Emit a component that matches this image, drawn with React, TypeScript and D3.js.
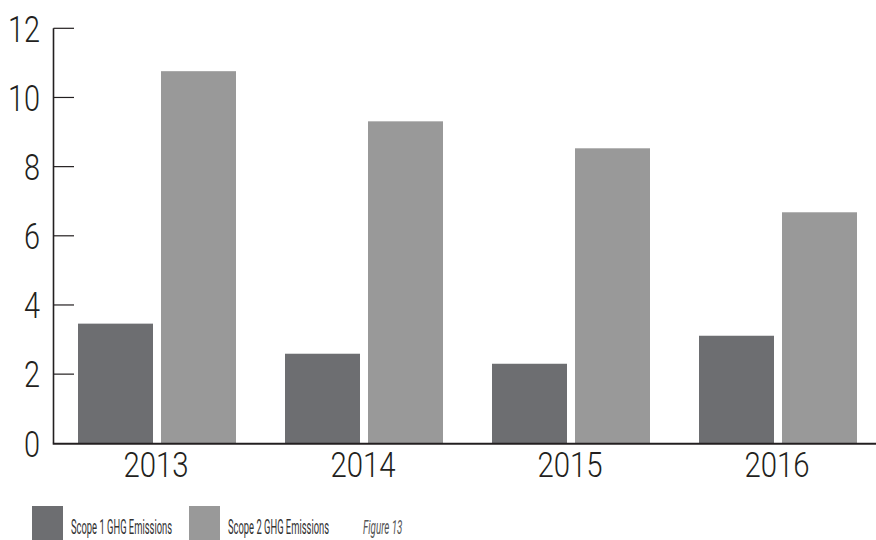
import React from "react";
import * as d3 from "d3";

const years = ["2013", "2014", "2015", "2016"];
const scope1 = [3.46, 2.59, 2.3, 3.11];
const scope2 = [10.76, 9.31, 8.53, 6.68];
const yTicks = [0, 2, 4, 6, 8, 10, 12];
const seriesNames = ["Scope 1 GHG Emissions", "Scope 2 GHG Emissions"];
const seriesColors = ["#6d6e71", "#999999"];
const figureLabel = "Figure 13";

const W = 876;
const H = 540;
const axisX = 53.5;
const font = "Roboto, 'Liberation Sans', Arial, sans-serif";
const ink = "#231f20";

// Text squeezed horizontally to imitate a condensed typeface.
function Narrow(props: {
  x: number;
  y: number;
  sx: number;
  size: number;
  weight?: number;
  anchor?: "start" | "middle" | "end";
  fill?: string;
  italic?: boolean;
  dy?: string;
  children: React.ReactNode;
}) {
  return (
    <text
      transform={`translate(${props.x},${props.y}) scale(${props.sx},1)`}
      textAnchor={props.anchor ?? "start"}
      fontSize={props.size}
      fontWeight={props.weight ?? 300}
      fill={props.fill ?? ink}
      fontStyle={props.italic ? "italic" : "normal"}
      dy={props.dy}
    >
      {props.children}
    </text>
  );
}

export default function App() {
  const y = d3.scaleLinear().domain([0, 12]).range([443.3, 28.3]);
  const x = d3.scaleBand<string>().domain(years).range([axisX, axisX + 4 * 207]).padding(0);
  const barW = 75;
  const gap = 8;

  return (
    <svg
      width={W}
      height={H}
      style={{ position: "absolute", left: 0, top: 0, background: "#fff" }}
      fontFamily={font}
    >
      {/* bars */}
      {years.map((yr, i) => {
        const c = (x(yr) as number) + x.bandwidth() / 2;
        return (
          <g key={yr}>
            <rect
              x={c - gap / 2 - barW}
              y={y(scope1[i])}
              width={barW}
              height={y(0) - y(scope1[i])}
              fill={seriesColors[0]}
            />
            <rect
              x={c + gap / 2}
              y={y(scope2[i])}
              width={barW}
              height={y(0) - y(scope2[i])}
              fill={seriesColors[1]}
            />
            <Narrow x={c - 1} y={477} sx={0.84} size={35} anchor="middle">
              {yr}
            </Narrow>
          </g>
        );
      })}

      {/* y axis */}
      <line x1={axisX} x2={axisX} y1={y(12)} y2={y(0)} stroke={ink} strokeWidth={1.6} />
      {yTicks.map((t) => (
        <g key={t}>
          {t > 0 && (
            <line x1={axisX} x2={74} y1={y(t)} y2={y(t)} stroke={ink} strokeWidth={1.2} />
          )}
          <Narrow x={40} y={y(t)} sx={0.78} size={37} anchor="end" dy="0.36em">
            {t}
          </Narrow>
        </g>
      ))}

      {/* x axis */}
      <line x1={axisX - 0.8} x2={W} y1={y(0) + 0.5} y2={y(0) + 0.5} stroke={ink} strokeWidth={2} />

      {/* legend */}
      <rect x={32} y={506} width={31} height={34} fill={seriesColors[0]} />
      <Narrow x={71} y={534} sx={0.47} size={20} weight={400} fill="#333">
        {seriesNames[0]}
      </Narrow>
      <rect x={189} y={506} width={31} height={34} fill={seriesColors[1]} />
      <Narrow x={228} y={534} sx={0.47} size={20} weight={400} fill="#333">
        {seriesNames[1]}
      </Narrow>
      <Narrow x={363} y={534} sx={0.49} size={20} weight={400} fill="#555" italic>
        {figureLabel}
      </Narrow>
    </svg>
  );
}
